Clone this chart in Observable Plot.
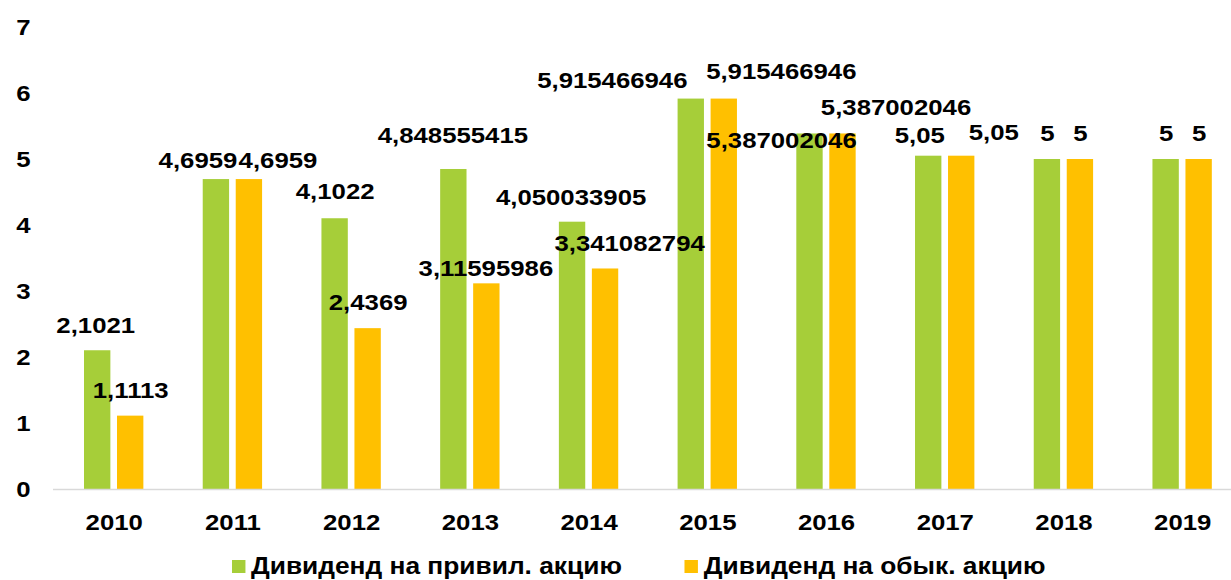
<!DOCTYPE html>
<html>
<head>
<meta charset="utf-8">
<script src="https://cdn.jsdelivr.net/npm/d3@7"></script>
<script src="https://cdn.jsdelivr.net/npm/@observablehq/plot@0.6"></script>
<style>
  html, body { margin: 0; padding: 0; background: #fff; overflow: hidden; }
  #wrap { position: relative; width: 1231px; height: 580px; font-family: "Liberation Sans", Arial, sans-serif; }
  #chart { transform-origin: 0 0; }
  #legend { position: absolute; left: 232px; top: 553px; height: 26px; display: flex; align-items: center;
            transform-origin: 0 50%;
            font-size: 23.5px; font-weight: bold; color: #000; white-space: nowrap; }
  .item { display: flex; align-items: center; }
  .sw { height: 13px; }
</style>
</head>
<body>
<div id="wrap"><div id="chart"></div><div id="legend"></div></div>
<script>
const years = ["2010","2011","2012","2013","2014","2015","2016","2017","2018","2019"];
const seriesNames = ["Дивиденд на привил. акцию", "Дивиденд на обык. акцию"];
const privValues = [2.1021, 4.6959, 4.1022, 4.848555415, 4.050033905, 5.915466946, 5.387002046, 5.05, 5, 5];
const obykValues = [1.1113, 4.6959, 2.4369, 3.11595986, 3.341082794, 5.915466946, 5.387002046, 5.05, 5, 5];
const yTicks = [0, 1, 2, 3, 4, 5, 6, 7];
const colors = ["#A6CE39", "#FFC000"];

// the reference is horizontally stretched; draw narrower and stretch back
const S = 1.12;

// manual label placement of the original (pixel nudges from bar center / bar top)
const labelNudge = {
  privDx: [-2, -18.5, 0, -1, -1.5, -79, -28.5, -9, 0, 0],
  privDy: [-25, -19, -27, -34, -25, -18, 6.5, -21, -26, -26],
  obykDx: [0, 28.5, 0, -1, 24, 57, 53, 32, 0, 0],
  obykDy: [-26, -19, -26, -15, -25.5, -27, -26, -23.5, -26, -26]
};

const priv = years.map((year, i) => ({year, value: privValues[i]}));
const obyk = years.map((year, i) => ({year, value: obykValues[i]}));
const fmt = v => String(v).replace(".", ",");

const labelMarks = [];
years.forEach((year, i) => {
  labelMarks.push(Plot.text([priv[i]], {x: "year", y: "value", text: d => fmt(d.value),
    dx: (-16.5 + labelNudge.privDx[i]) / S, dy: labelNudge.privDy[i], lineAnchor: "middle", fontSize: 23, fill: "#000"}));
  labelMarks.push(Plot.text([obyk[i]], {x: "year", y: "value", text: d => fmt(d.value),
    dx: (16.5 + labelNudge.obykDx[i]) / S, dy: labelNudge.obykDy[i], lineAnchor: "middle", fontSize: 23, fill: "#000"}));
});

const chart = Plot.plot({
  width: 1231 / S,
  height: 540,
  marginLeft: 53 / S,
  marginRight: 0,
  marginTop: 27,
  marginBottom: 51,
  style: {fontFamily: "'Liberation Sans', Arial, sans-serif", fontWeight: "bold", color: "#000", background: "#fff", overflow: "visible"},
  x: {domain: years, paddingInner: 0.496, paddingOuter: 0.1975, align: 0.617, axis: null},
  y: {domain: [0, 7], axis: null},
  marks: [
    Plot.barY(priv, {x: "year", y: "value", fill: colors[0], insetRight: 33 / S, insetLeft: 0}),
    Plot.barY(obyk, {x: "year", y: "value", fill: colors[1], insetLeft: 33 / S, insetRight: 0}),
    Plot.ruleY([0], {stroke: "#D9D9D9", strokeWidth: 1.5}),
    Plot.axisY({ticks: yTicks, tickSize: 0, tickPadding: 23 / S, fontSize: 23, label: null, tickFormat: d => String(d)}),
    Plot.axisX({tickSize: 0, tickPadding: 24, fontSize: 23, label: null}),
    ...labelMarks
  ]
});
const chartDiv = document.getElementById("chart");
chartDiv.appendChild(chart);
chartDiv.style.transform = `scaleX(${S})`;

const legend = document.getElementById("legend");
legend.style.transform = `scaleX(${S})`;
seriesNames.forEach((name, i) => {
  const item = document.createElement("div");
  item.className = "item";
  if (i > 0) item.style.marginLeft = (63 / S) + "px";
  const sw = document.createElement("span");
  sw.className = "sw";
  sw.style.width = (13 / S) + "px";
  sw.style.marginRight = (6 / S) + "px";
  sw.style.background = colors[i];
  const t = document.createElement("span");
  t.textContent = name;
  item.appendChild(sw);
  item.appendChild(t);
  legend.appendChild(item);
});
</script>
</body>
</html>
